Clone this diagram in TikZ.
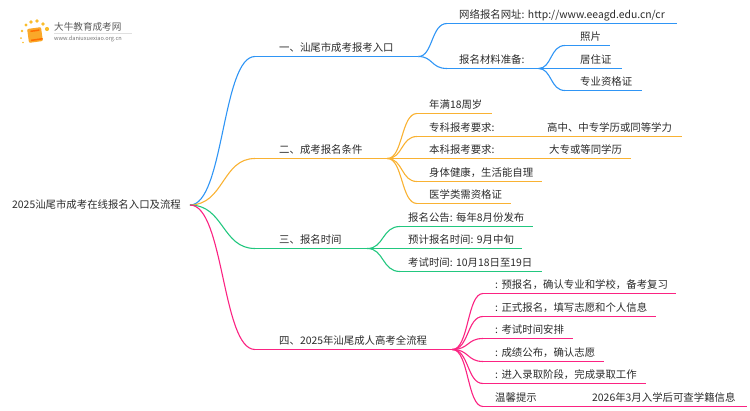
\documentclass[tikz,border=0pt]{standalone}
\usepackage{fontspec}
\setmainfont{Noto Sans CJK SC}
\definecolor{bluebr}{HTML}{2F95F5}
\definecolor{orangebr}{HTML}{F9B233}
\definecolor{greenbr}{HTML}{22C77F}
\definecolor{pinkbr}{HTML}{FB2382}
\definecolor{inktxt}{HTML}{2B2B2B}
\begin{document}
\frenchspacing
\begin{tikzpicture}[x=1pt,y=-1pt,
      every node/.append style={font=\fontsize{10.4pt}{12pt}\selectfont,text=inktxt},
      leaf/.style={anchor=south west,inner xsep=12pt,inner ysep=2.5pt,
        text height=9.5pt,text depth=2pt,align=left,text width=#1pt-24pt},
      plain/.style={anchor=south west,inner sep=0pt,inner ysep=2.5pt,
        text height=9.5pt,text depth=2pt},
      head/.style={leaf=#1,inner xsep=24pt,text width=#1pt-48pt},
      stem/.style={line width=1.5pt},
      wire/.style={line width=1.1pt}]
    \useasboundingbox (0,0) rectangle (750,410);

    % logo
    \foreach \x/\y/\r in {21/38/1,22/31/1.3,26/25/1.6,31/22/1.8,37/21/1.9,43/24/1.8,47/29/2.1,23/42.5/.8}
      \fill[orangebr!85!yellow] (\x,\y) circle [radius=\r];
    \fill[orangebr!80!orange,rotate around={8:(35,35)},rounded corners=1pt] (28,28) rectangle (42,42);
    \fill[orange!85!red,rotate around={8:(35,35)}] (31,30) rectangle (40,31.5) (30.5,39) rectangle (42,40.5);
    \draw[black!12,line width=.5pt] (54,33) -- (132,33);
    \node[anchor=west,inner sep=0pt,font=\fontsize{9.6pt}{10pt}\selectfont,text=black!65] (logotxt) at (54,27) {大牛教育成考网};
    \node[anchor=west,inner sep=0pt,font=\fontsize{5.6pt}{6pt}\selectfont,text=black!55] (logourl) at (54,38.5) {www.daniuxuexiao.org.cn};

    \node[anchor=west,inner sep=0pt] (root) at (12,205) {2025汕尾市成考在线报名入口及流程};
    \coordinate (hub) at (190,205);

    % main branches
    \foreach \n/\y/\w/\c/\t in {a/56.5/163/bluebr/一、汕尾市成考报考入口,
        b/158.5/132/orangebr/二、成考报名条件,
        c/248.5/112/greenbr/三、报名时间,
        d/349.5/197/pinkbr/四、2025年汕尾成人高考全流程} {
      \node[head=\w] (\n) at (255,\y) {\mbox{\t}};
      \draw[stem,\c] (\n.south west) -- (\n.south east);
      \draw[wire,\c] (hub) .. controls (224,205) and (222,\y) .. (\n.south west);
    }

    % first branch
    \node[leaf=230] (a1) at (447,23.5) {\mbox{网络报名网址: http://www.eeagd.edu.cn/cr}};
    \node[leaf=91] (a2) at (447,68.5) {\mbox{报名材料准备:}};
    \foreach \n in {a1,a2} {
      \draw[stem,bluebr] (\n.south west) -- (\n.south east);
      \draw[wire,bluebr] (a.south east) .. controls (433,56.5) and (431,0|-\n.south west) .. (\n.south west);
    }
    \foreach \n/\y/\w/\t in {p/45.5/45/照片,q/68.5/57/居住证,r/90.5/77/专业资格证} {
      \node[leaf=\w,inner xsep=15pt,text width=\w pt-30pt] (a2\n) at (565,\y) {\mbox{\t}};
      \draw[stem,bluebr] (a2\n.south west) -- (a2\n.south east);
      \draw[wire,bluebr] (a2.south east) .. controls (552,68.5) and (550,\y) .. (a2\n.south west);
    }

    % second branch
    \foreach \n/\y/\w/\t in {1/113.5/75/年满18周岁,2/136.5/265/专科报考要求:,
        3/158.5/214/本科报考要求:,4/181.5/125/{身体健康，生活能自理},5/203.5/94/医学类需资格证} {
      \node[leaf=\w] (b\n) at (417,\y) {\mbox{\t}};
      \draw[stem,orangebr] (b\n.south west) -- (b\n.south east);
      \draw[wire,orangebr] (b.south east) .. controls (403,158.5) and (401,\y) .. (b\n.south west);
    }
    \node[plain] (b2v) at (547,136.5) {高中、中专学历或同等学力};
    \node[plain] (b3v) at (549,158.5) {大专或等同学历};

    % third branch
    \foreach \n/\y/\w/\t in {1/226.5/133/报名公告: 每年8月份发布,2/248.5/122/预计报名时间: 9月中旬,
        3/271.5/142/考试时间: 10月18日至19日} {
      \node[leaf=\w,inner xsep=8pt,text width=\w pt-16pt] (c\n) at (400,\y) {\mbox{\t}};
      \draw[stem,greenbr] (c\n.south west) -- (c\n.south east);
      \draw[wire,greenbr] (c.south east) .. controls (384,248.5) and (382,\y) .. (c\n.south west);
    }

    % fourth branch
    \foreach \n/\y/\w/\t in {1/293.5/193/{: 预报名，确认专业和学校，备考复习},
        2/316.5/173/{: 正式报名，填写志愿和个人信息},3/338.5/90/: 考试时间安排,
        4/361.5/121/{: 成绩公布，确认志愿},5/383.5/163/{: 进入录取阶段，完成录取工作},
        6/406.5/264/温馨提示} {
      \node[leaf=\w] (d\n) at (483,\y) {\mbox{\t}};
      \draw[stem,pinkbr] (d\n.south west) -- (d\n.south east);
      \draw[wire,pinkbr] (d.south east) .. controls (469,349.5) and (467,\y) .. (d\n.south west);
    }
    \node[plain] (d6v) at (592,406.5) {2026年3月入学后可查学籍信息};
\end{tikzpicture}
\end{document}
